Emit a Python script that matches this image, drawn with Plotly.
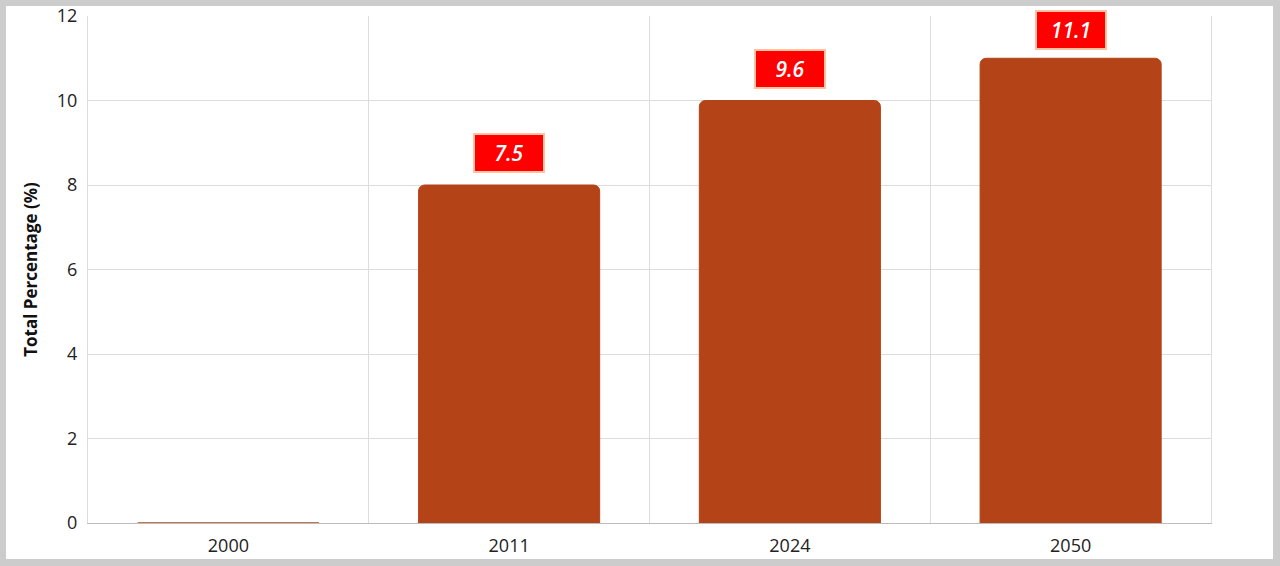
import plotly.graph_objects as go

years = ["2000", "2011", "2024", "2050"]
bar_values = [0, 8, 10, 11]
label_years = ["2011", "2024", "2050"]
label_values = [8, 10, 11]
label_texts = ["7.5", "9.6", "11.1"]
y_ticks = [0, 2, 4, 6, 8, 10, 12]

BAR = "#B44318"

fig = go.Figure()
fig.add_trace(go.Bar(
    x=years, y=bar_values,
    marker=dict(color=BAR, line=dict(color=BAR, width=1), cornerradius=6),
    width=0.645, hoverinfo="x+y",
))

for yr, v, t in zip(label_years, label_values, label_texts):
    fig.add_annotation(
        x=years.index(yr), y=v, xref="x", yref="y", text=t, showarrow=False,
        yanchor="bottom", yshift=12 if v < 11 else 8,
        font=dict(family="Open Sans", size=21, color="white", style="italic", weight=600),
        bgcolor="#FF0000", bordercolor="#FFC2A0", borderwidth=2,
        width=66, height=34,
    )

# page frame (white card on grey)
fig.add_shape(type="rect", xref="paper", yref="paper",
              x0=(6 - 88) / 1123, x1=(1273 - 88) / 1123,
              y0=(523 - 559) / 507, y1=(523 - 6) / 507,
              fillcolor="white", line_width=0, layer="below")

fig.update_layout(
    width=1280, height=566,
    margin=dict(l=88, r=69, t=16, b=43, autoexpand=False),
    paper_bgcolor="#CCCCCC", plot_bgcolor="rgba(0,0,0,0)",
    showlegend=False,
    font=dict(family="Open Sans", size=18, color="#222222"),
    xaxis=dict(
        type="category", range=[-0.5, 3.5], tickson="boundaries", showgrid=True, gridcolor="#DDDDDD",
        showline=True, linecolor="#BBBBBB", mirror=False, ticks="", automargin=False,
        tickangle=0, ticklabelstandoff=6, tickfont=dict(size=18, color="#222222"),
    ),
    yaxis=dict(
        range=[0, 12], tickvals=y_ticks, showgrid=True, gridcolor="#DDDDDD",
        showline=True, linecolor="#DDDDDD", mirror=True, ticks="", zeroline=False, automargin=False,
        ticklabelstandoff=6, tickfont=dict(size=18, color="#222222"),
        title=dict(text="Total Percentage (%)", font=dict(size=17, weight="bold", color="#111111"), standoff=14),
    ),
)

fig.write_html("out.html", config={"displayModeBar": False},
               post_script="document.body.style.margin='0';")
